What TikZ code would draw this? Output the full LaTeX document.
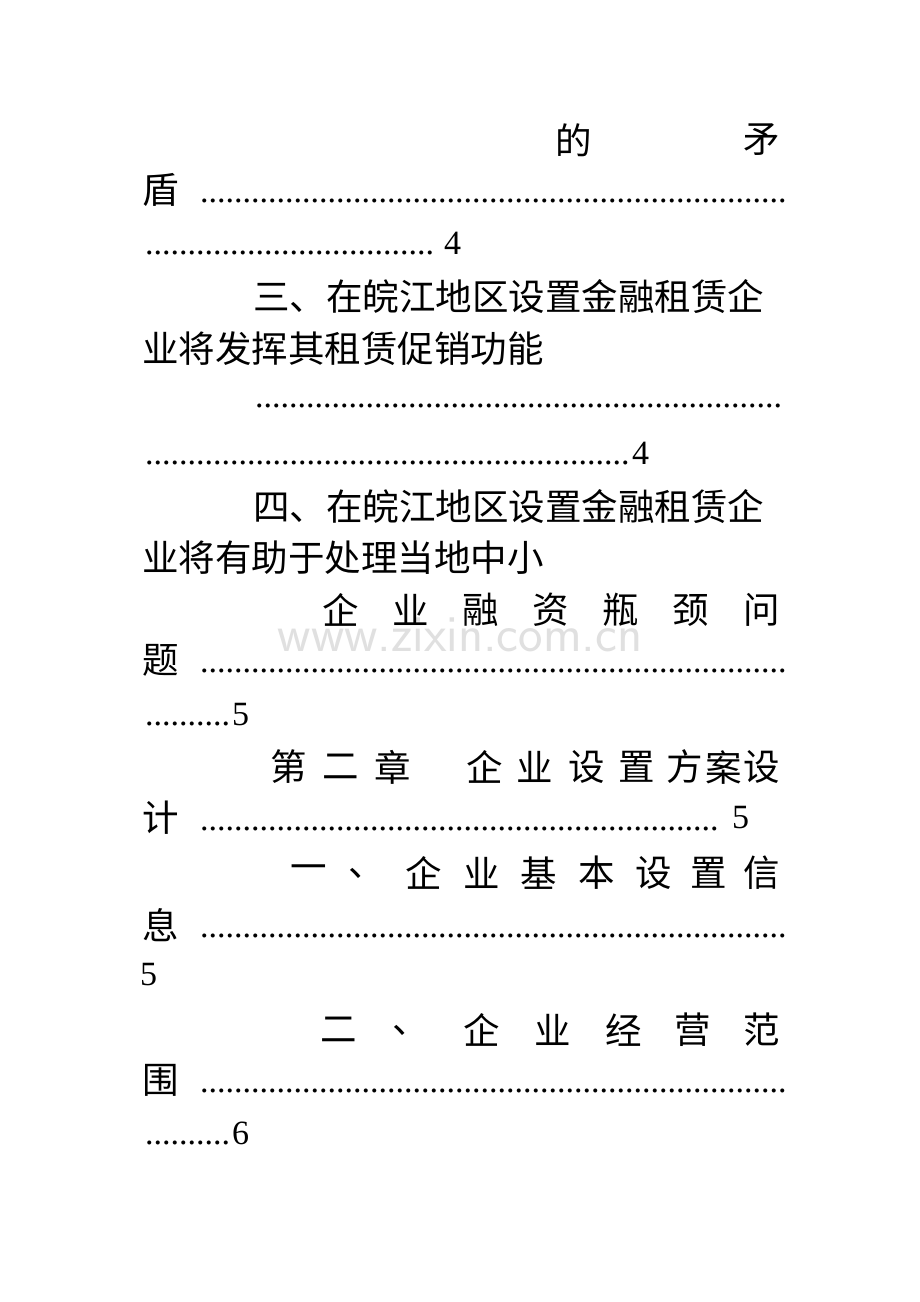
\documentclass[tikz,border=0pt]{standalone}
\usepackage{fontspec}
\setmainfont{Liberation Serif}
\newfontfamily\cjk{Noto Sans CJK SC}
\usepackage{tikz}
\newcommand{\dotrow}[1]{\makebox[#1pt]{\leaders\hbox{.}\hfill}}
\tikzset{
  txt/.style = {anchor = west, inner sep = 0pt, font = \fontsize{36.5}{38}\selectfont\cjk},
  num/.style = {anchor = west, inner sep = 0pt, font = \fontsize{34}{36}\selectfont},
  dots/.style = {anchor = base west, inner sep = 0pt, font = \fontsize{34}{36}\selectfont},
}
\begin{document}
\begin{tikzpicture}[x = 1pt, y = -1pt]
  \useasboundingbox[fill = white] (0,0) rectangle (920,1302);
  % watermark
  \node[text = black!12, font = \fontsize{52}{54}\selectfont\sffamily] (mark) at (460,635) {www.zixin.com.cn};

  \node[txt] (de) at (555,140) {的};
  \node[txt] (mao) at (743,140) {矛};
  \node[txt] (dun) at (142,190) {盾};
  \node[dots] (d1) at (200,202) {\dotrow{590}};
  \node[dots] (d2) at (145,254) {\dotrow{290}};
  \node[num] (p1) at (444,243) {4};

  \node[txt] (san) at (253,297) {三、在皖江地区设置金融租赁企};
  \node[txt] (sanb) at (142,349) {业将发挥其租赁促销功能};
  \node[dots] (d3) at (255,407) {\dotrow{535}};
  \node[dots] (d4) at (145,464) {\dotrow{485}};
  \node[num] (p2) at (632,453) {4};

  \node[txt] (si) at (253,507) {四、在皖江地区设置金融租赁企};
  \node[txt] (sib) at (142,558) {业将有助于处理当地中小};
  \foreach \c/\x in {企/322, 业/392, 融/462, 资/532, 瓶/602, 颈/672, 问/743}
    \node[txt] at (\x,610) {\c};
  \node[txt] (ti) at (142,660) {题};
  \node[dots] (d5) at (200,672) {\dotrow{590}};
  \node[dots] (d6) at (145,725) {\dotrow{85}};
  \node[num] (p3) at (232,715) {5};

  \foreach \c/\x in {第/270, 二/322, 章/374, 企/466, 业/516, 设/568, 置/618, 方/666, 案/705, 设/743}
    \node[txt] at (\x,767) {\c};
  \node[txt] (ji) at (142,818) {计};
  \node[dots] (d7) at (200,830) {\dotrow{525}};
  \node[num] (p4) at (732,818) {5};

  \foreach \c/\x in {一/290, 、/348, 企/405, 业/463, 基/520, 本/578, 设/635, 置/690, 信/743}
    \node[txt] at (\x,873) {\c};
  \node[txt] (xi) at (142,925) {息};
  \node[dots] (d8) at (200,937) {\dotrow{590}};
  \node[num] (p5) at (140,975) {5};

  \foreach \c/\x in {二/320, 、/392, 企/463, 业/534, 经/605, 营/674, 范/743}
    \node[txt] at (\x,1030) {\c};
  \node[txt] (wei) at (142,1080) {围};
  \node[dots] (d9) at (200,1092) {\dotrow{590}};
  \node[dots] (d10) at (145,1144) {\dotrow{85}};
  \node[num] (p6) at (232,1133) {6};
\end{tikzpicture}
\end{document}
